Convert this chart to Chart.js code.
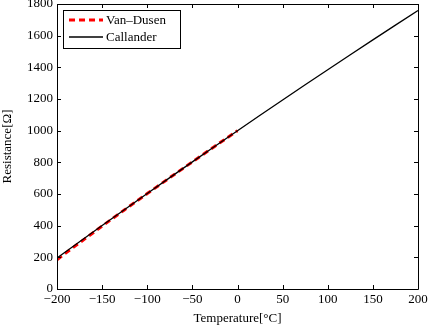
<!DOCTYPE html>
<html>
<head>
<meta charset="utf-8">
<script src="https://cdn.jsdelivr.net/npm/chart.js@4.4.1/dist/chart.umd.min.js"></script>
<style>
html,body{margin:0;padding:0;background:#fff;}
#wrap{width:428px;height:328px;position:relative;}
</style>
</head>
<body>
<div id="wrap"><canvas id="c" width="428" height="328"></canvas></div>
<script>
const vanDusenT = [-200, -175, -150, -125, -100, -75, -50, -25, 0];
const vanDusenR = [185.2, 292.2, 397.3, 500.6, 602.6, 703.3, 803.0, 901.9, 1000];
const callanderT = [-200, -175, -150, -125, -100, -75, -50, -25, 0, 25, 50, 75, 100, 125, 150, 175, 200];
const callanderR = [195.2, 298.4, 400.8, 502.4, 603.4, 703.6, 803.1, 901.9, 1000, 1097.3, 1194.0, 1289.9, 1385.1, 1479.5, 1573.3, 1666.3, 1758.6];
const seriesNames = ['Van\u2013Dusen', 'Callander'];
const xTickValues = [-200, -150, -100, -50, 0, 50, 100, 150, 200];
const yTickValues = [0, 200, 400, 600, 800, 1000, 1200, 1400, 1600, 1800];
const xTitle = 'Temperature[\u00B0C]';
const yTitle = 'Resistance[\u03A9]';

const FONT = '"Liberation Serif", "Times New Roman", serif';

const framePlugin = {
  id: 'frame',
  afterDatasetsDraw(chart) {
    const ctx = chart.ctx;
    const a = chart.chartArea;
    const xs = chart.scales.x, ys = chart.scales.y;
    ctx.save();
    ctx.strokeStyle = '#000';
    ctx.lineWidth = 1;
    ctx.beginPath();
    ctx.rect(Math.round(a.left) + 0.5, Math.round(a.top) + 0.5, Math.round(a.right - a.left), Math.round(a.bottom - a.top));
    ctx.stroke();
    const tl = 4;
    ctx.beginPath();
    xTickValues.forEach(v => {
      const px = Math.round(xs.getPixelForValue(v)) + 0.5;
      ctx.moveTo(px, a.bottom); ctx.lineTo(px, a.bottom - tl);
      ctx.moveTo(px, a.top); ctx.lineTo(px, a.top + tl);
    });
    yTickValues.forEach(v => {
      const py = Math.round(ys.getPixelForValue(v)) + 0.5;
      ctx.moveTo(a.left, py); ctx.lineTo(a.left + tl, py);
      ctx.moveTo(a.right, py); ctx.lineTo(a.right - tl, py);
    });
    ctx.stroke();

    // legend
    const lx = 63.5, ly = 10.5, lw = 117, lh = 38;
    ctx.fillStyle = '#fff';
    ctx.fillRect(lx, ly, lw, lh);
    ctx.strokeRect(lx, ly, lw, lh);
    const ds = chart.data.datasets;
    const rows = [20, 37];
    ds.forEach((d, i) => {
      ctx.beginPath();
      ctx.strokeStyle = d.borderColor;
      ctx.lineWidth = d.borderWidth;
      ctx.setLineDash(d.borderDash || []);
      ctx.moveTo(69, rows[i]); ctx.lineTo(103, rows[i]);
      ctx.stroke();
      ctx.setLineDash([]);
      ctx.fillStyle = '#000';
      ctx.font = '13px ' + FONT;
      ctx.textBaseline = 'middle';
      ctx.textAlign = 'left';
      ctx.fillText(d.label, 106, rows[i] + 1);
    });
    ctx.restore();
  }
};

new Chart(document.getElementById('c'), {
  type: 'line',
  data: {
    datasets: [
      {
        label: seriesNames[0],
        data: vanDusenT.map((t, i) => ({x: t, y: vanDusenR[i]})),
        borderColor: '#ff0000',
        borderWidth: 3,
        borderDash: [6, 4],
        pointRadius: 0,
        fill: false,
        tension: 0,
        order: 1
      },
      {
        label: seriesNames[1],
        data: callanderT.map((t, i) => ({x: t, y: callanderR[i]})),
        borderColor: '#000000',
        borderWidth: 1.3,
        pointRadius: 0,
        fill: false,
        tension: 0,
        order: 0
      }
    ]
  },
  options: {
    responsive: false,
    animation: false,
    devicePixelRatio: 1,
    layout: { padding: { left: 0, right: 10, top: 4, bottom: 0 } },
    plugins: { legend: { display: false }, tooltip: { enabled: false } },
    scales: {
      x: {
        type: 'linear',
        min: -200, max: 200,
        afterBuildTicks: (s) => { s.ticks = xTickValues.map(v => ({value: v})); },
        afterFit: (s) => { s.height = 39; s.paddingLeft = 0; s.paddingRight = 0; },
        grid: { display: false, drawTicks: false },
        border: { display: false },
        ticks: {
          color: '#000',
          font: { family: FONT, size: 13 },
          padding: 3,
          maxRotation: 0,
          callback: (v) => String(v).replace('-', '\u2212')
        },
        title: {
          display: true, text: xTitle, color: '#000',
          font: { family: FONT, size: 13 }, padding: { top: 0, bottom: 2 }
        }
      },
      y: {
        type: 'linear',
        min: 0, max: 1800,
        afterBuildTicks: (s) => { s.ticks = yTickValues.map(v => ({value: v})); },
        afterFit: (s) => { s.width = 57; s.paddingTop = 0; s.paddingBottom = 0; },
        grid: { display: false, drawTicks: false },
        border: { display: false },
        ticks: {
          color: '#000',
          font: { family: FONT, size: 13 },
          padding: 4,
          callback: (v) => String(v)
        },
        title: {
          display: true, text: yTitle, color: '#000',
          font: { family: FONT, size: 13 }, padding: { top: 0, bottom: 4 }
        }
      }
    }
  },
  plugins: [framePlugin]
});
</script>
</body>
</html>
